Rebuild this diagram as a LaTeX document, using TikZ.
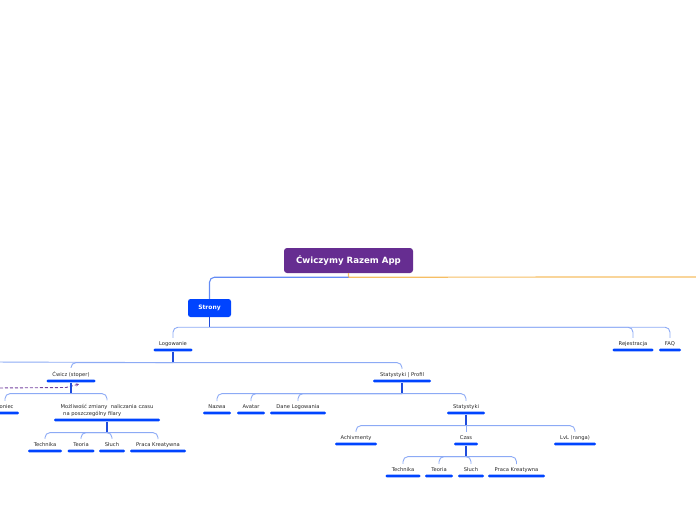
\documentclass[tikz,border=0pt]{standalone}
\usepackage{fontspec}
\setmainfont{DejaVu Sans}
\usetikzlibrary{calc,arrows.meta}
\definecolor{ttl}{RGB}{102,45,145}
\definecolor{bblue}{RGB}{0,68,255}
\definecolor{stemc}{RGB}{30,75,220}
\definecolor{brc}{RGB}{140,170,245}
\definecolor{topc}{RGB}{100,140,245}
\definecolor{orng}{RGB}{246,190,100}
\definecolor{txt}{RGB}{40,40,40}
\definecolor{dashc}{RGB}{115,65,160}
\newcommand\leaf[5]{%
  \node[bar, minimum width=#4] (#1b) at (#2,#3) {};
  \node[lbl] (#1) at (#2,#3-4.5) {#5};
}
\begin{document}
\begin{tikzpicture}[x=1pt,y=-1pt,
 lbl/.style={font=\fontsize{5.2}{7}\selectfont, text=txt, inner sep=0pt, anchor=base},
 bar/.style={fill=bblue, rounded corners=1.2pt, minimum height=2.8pt, inner sep=0pt},
 stem/.style={draw=stemc, line width=1.1pt},
 branch/.style={draw=brc, line width=0.9pt, rounded corners=5pt},
 up/.style={yshift=3.5pt},
]
\useasboundingbox (0,0) rectangle (696,520);
\clip (0,0) rectangle (696,520);

% root and Strony
\node[fill=ttl, text=white, font=\bfseries\fontsize{8.6}{10}\selectfont,
      rounded corners=3pt, minimum width=129pt, minimum height=25pt, inner sep=0pt]
      (root) at (348.5,260.5) {Ćwiczymy Razem App};
\node[fill=bblue, text=white, font=\bfseries\fontsize{6}{7}\selectfont,
      rounded corners=2.5pt, minimum width=43pt, minimum height=18pt, inner sep=0pt]
      (strony) at (209.5,308) {Strony};

\coordinate (rj) at ($(root.south)+(0,4)$);
\coordinate (offR) at (700,277);
\draw[draw=orng, line width=1.2pt] (root.south) -- (rj) -- (offR);
\draw[draw=topc, line width=1.1pt, rounded corners=5pt] (rj) -| (strony.north);

% level 1
\leaf{logo}{173}{350}{39pt}{Logowanie}
\leaf{rej}{633}{350}{41pt}{Rejestracja}
\leaf{faq}{670}{350}{22pt}{FAQ}
\coordinate (sj) at ($(strony.south)+(0,10)$);
\draw[stem] (strony.south) -- (sj);
\draw[branch] (sj) -| ([up]logo.north);
\draw[branch] (sj) -| ([up]rej.north);
\draw[branch] (sj) -| ([up]faq.north);

% level 2
\leaf{cw}{71}{381}{49pt}{Ćwicz (stoper)}
\leaf{sp}{402}{381}{58pt}{Statystyki | Profil}
\coordinate (lj) at ($(logob.south)+(0,11)$);
\coordinate (offL) at (-10,362);
\draw[stem] (logob.south) -- (lj);
\draw[branch] (lj) -| ([up]cw.north);
\draw[branch] (lj) -| ([up]sp.north);
\draw[branch] (lj) -- (offL);

% dashed relation
\coordinate (dL) at (-5,388);
\coordinate (dM) at (66,387.5);
\draw[draw=dashc, line width=0.9pt, dash pattern=on 3pt off 2pt,
      -{Stealth[length=3pt,width=3pt]}] (dL) -- (dM) -- ([xshift=8pt,yshift=-1.5pt]cwb.south);

% Cwicz children
\leaf{kon}{5}{413}{28pt}{Koniec}
\node[bar, minimum width=106pt] (mzb) at (107,420) {};
\node[font=\fontsize{5.2}{7}\selectfont, text=txt, inner sep=0pt, anchor=south, align=left]
     (mz) at (107,416.5) {Możliwość zmiany\ \ naliczania czasu\\\hspace*{2.5pt}na poszczególny filary};
\coordinate (cj) at ($(cwb.south)+(0,11)$);
\draw[stem] (cwb.south) -- (cj);
\draw[branch] (cj) -| ([up]kon.north);
\draw[branch] (cj) -| ([up]mz.north);

% Mozliwosc children
\leaf{ta}{45}{451}{34pt}{Technika}
\leaf{tea}{81}{451}{27pt}{Teoria}
\leaf{sa}{112}{451}{26pt}{Słuch}
\leaf{pa}{158}{451}{56pt}{Praca Kreatywna}
\coordinate (mj) at ($(mzb.south)+(0,11)$);
\draw[stem] (mzb.south) -- (mj);
\draw[branch] (mj) -| ([up]ta.north);
\draw[branch] (mj) -| ([up]tea.north);
\draw[branch] (mj) -| ([up]sa.north);
\draw[branch] (mj) -| ([up]pa.north);

% Statystyki | Profil children
\leaf{naz}{217}{413}{28pt}{Nazwa}
\leaf{av}{251}{413}{28pt}{Avatar}
\leaf{dl}{298}{413}{56pt}{Dane Logowania}
\leaf{st}{466}{413}{38pt}{Statystyki}
\coordinate (pj) at ($(spb.south)+(0,11)$);
\draw[stem] (spb.south) -- (pj);
\draw[branch] (pj) -| ([up]naz.north);
\draw[branch] (pj) -| ([up]av.north);
\draw[branch] (pj) -| ([up]dl.north);
\draw[branch] (pj) -| ([up]st.north);

% Statystyki children
\leaf{ach}{356}{444}{42pt}{Achivmenty}
\leaf{cz}{466}{444}{24pt}{Czas}
\leaf{lvl}{575}{444}{42pt}{LvL (ranga)}
\coordinate (tj) at ($(stb.south)+(0,11)$);
\draw[stem] (stb.south) -- (tj);
\draw[branch] (tj) -| ([up]ach.north);
\draw[branch] (tj) -- ([up]cz.north);
\draw[branch] (tj) -| ([up]lvl.north);

% Czas children
\leaf{tb}{403}{476}{35pt}{Technika}
\leaf{teb}{439}{476}{28pt}{Teoria}
\leaf{sb}{471}{476}{26pt}{Słuch}
\leaf{pb}{516.5}{476}{57pt}{Praca Kreatywna}
\coordinate (zj) at ($(czb.south)+(0,11)$);
\draw[stem] (czb.south) -- (zj);
\draw[branch] (zj) -| ([up]tb.north);
\draw[branch] (zj) -| ([up]teb.north);
\draw[branch] (zj) -| ([up]sb.north);
\draw[branch] (zj) -| ([up]pb.north);
\end{tikzpicture}
\end{document}
